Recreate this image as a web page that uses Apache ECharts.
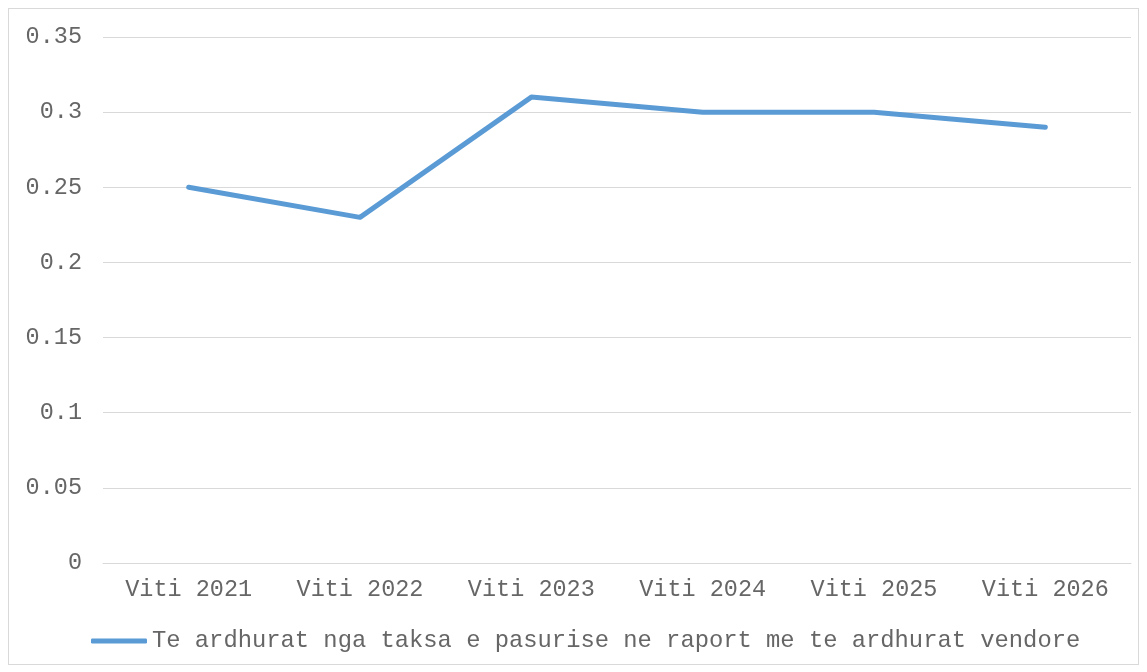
<!DOCTYPE html>
<html>
<head>
<meta charset="utf-8">
<script src="https://cdn.jsdelivr.net/npm/echarts@6/dist/echarts.min.js"></script>
<style>
  html, body { margin: 0; padding: 0; background: #fff; }
  #frame {
    position: absolute; left: 8px; top: 8px;
    width: 1129px; height: 655px;
    border: 1px solid #d9d9d9;
  }
  #chart { position: absolute; left: 0; top: 0; width: 1147px; height: 672px; }
</style>
</head>
<body>
<div id="frame"></div>
<div id="chart"></div>
<script>
const categories = ['Viti 2021', 'Viti 2022', 'Viti 2023', 'Viti 2024', 'Viti 2025', 'Viti 2026'];
const seriesName = 'Te ardhurat nga taksa e pasurise ne raport me te ardhurat vendore';
const values = [0.25, 0.23, 0.31, 0.30, 0.30, 0.29];

const font = '"Liberation Mono", "Courier New", monospace';
const textColor = '#666666';

const chart = echarts.init(document.getElementById('chart'));
chart.setOption({
  animation: false,
  grid: { left: 103, right: 16, top: 37, bottom: 109 },
  legend: {
    bottom: 14,
    left: 86,
    itemWidth: 56,
    itemHeight: 5,
    itemGap: 10,
    icon: 'roundRect',
    textStyle: { fontFamily: font, fontSize: 23.8, color: textColor },
    data: [seriesName]
  },
  xAxis: {
    type: 'category',
    data: categories,
    boundaryGap: true,
    axisLine: { show: true, lineStyle: { color: '#d9d9d9', width: 1 } },
    axisTick: { show: false },
    axisLabel: { fontFamily: font, fontSize: 23.5, color: textColor, margin: 15 }
  },
  yAxis: {
    type: 'value',
    min: 0,
    max: 0.35,
    interval: 0.05,
    axisLine: { show: false },
    axisTick: { show: false },
    axisLabel: {
      fontFamily: font, fontSize: 23.5, color: textColor, margin: 21,
      formatter: v => String(parseFloat(v.toFixed(2)))
    },
    splitLine: { lineStyle: { color: '#d9d9d9', width: 1 } }
  },
  series: [{
    name: seriesName,
    type: 'line',
    data: values,
    symbol: 'none',
    lineStyle: { color: '#5b9bd5', width: 5, cap: 'round', join: 'round' },
    itemStyle: { color: '#5b9bd5' }
  }]
});
</script>
</body>
</html>
